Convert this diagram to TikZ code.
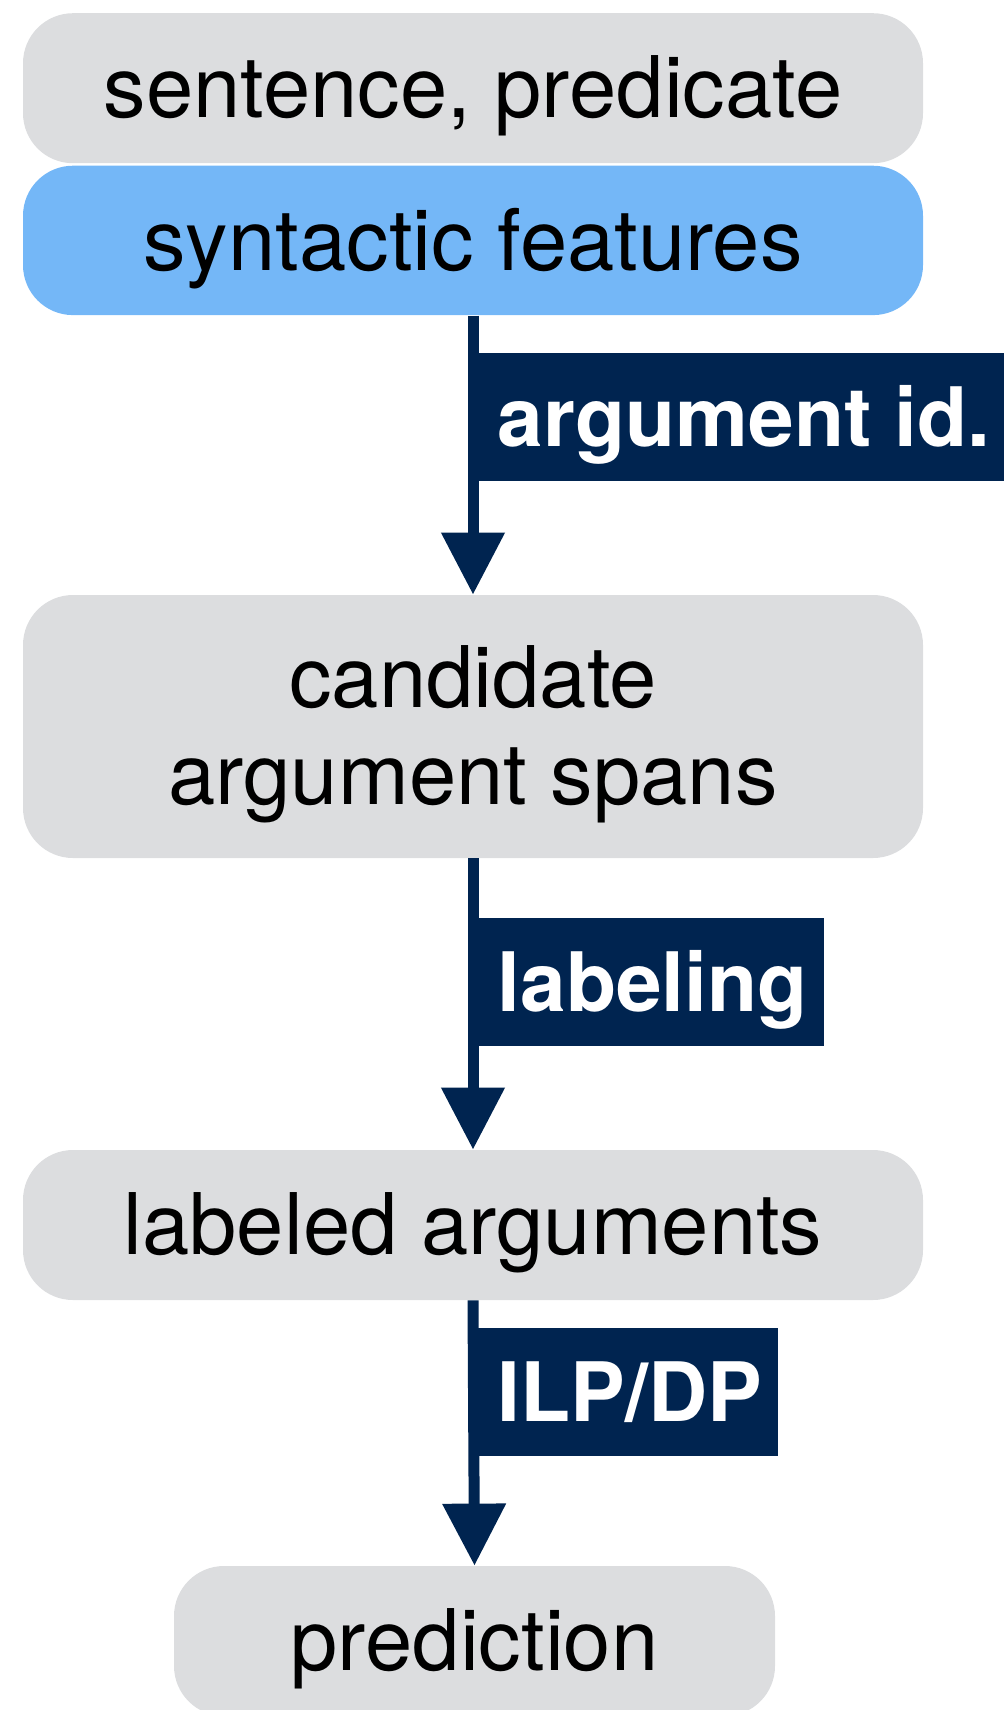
\documentclass[tikz,border=0pt]{standalone}
\usepackage{fontspec}
\setmainfont{TeX Gyre Heros}
\usetikzlibrary{arrows.meta}
\definecolor{boxgray}{RGB}{220,221,223}
\definecolor{featblue}{RGB}{116,183,247}
\definecolor{stepnavy}{RGB}{0,36,80}
% fixed line height, so every text sits at the same place in its box
\newcommand{\stagestrut}{\rule[-9pt]{0pt}{48pt}}
\tikzset{
  stage/.style={fill=boxgray, rounded corners=25pt, minimum width=450pt, inner sep=0pt,
    align=center, font=\fontsize{42.5}{48.5}\selectfont},
  flow/.style={draw=stepnavy, line width=5.5pt, -{Triangle[width=30.5pt,length=31pt]}},
  steplabel/.style={fill=stepnavy, text=white, anchor=west, inner xsep=8pt, inner ysep=0pt,
    minimum height=64pt, font=\fontsize{41}{48}\selectfont\bfseries},
}
\begin{document}
\begin{tikzpicture}[x=0.5pt,y=-0.5pt]
    \useasboundingbox (0,0) rectangle (1004,1710);
    % stages
    \node[stage, minimum height=75pt] (input) at (473,88.2) {\stagestrut sentence, predicate};
    \node[stage, fill=featblue, minimum height=74.7pt] (feats) at (473,240.4) {\stagestrut syntactic features};
    \node[stage, minimum height=131.5pt] (cands) at (473,726.5) {\stagestrut candidate\\\stagestrut argument spans};
    \node[stage, minimum height=75pt] (labeled) at (473,1225) {\stagestrut labeled arguments};
    \node[stage, minimum width=300.5pt, minimum height=75pt] (pred) at (474.5,1641) {\stagestrut prediction};
    % steps
    \draw[flow] (feats.south) -- (cands.north);
    \draw[flow] (cands.south) -- (labeled.north);
    \draw[flow] (labeled.south) -- (pred.north);
    \node[steplabel] (argid) at (469.5,416.7) {\kern6pt\stagestrut argument id.};
    \node[steplabel] (labeling) at (469.5,981.7) {\kern6pt\stagestrut labeling};
    \node[steplabel] (ilp) at (469.5,1391.7) {\kern6pt\stagestrut ILP/DP};
  \end{tikzpicture}
\end{document}
